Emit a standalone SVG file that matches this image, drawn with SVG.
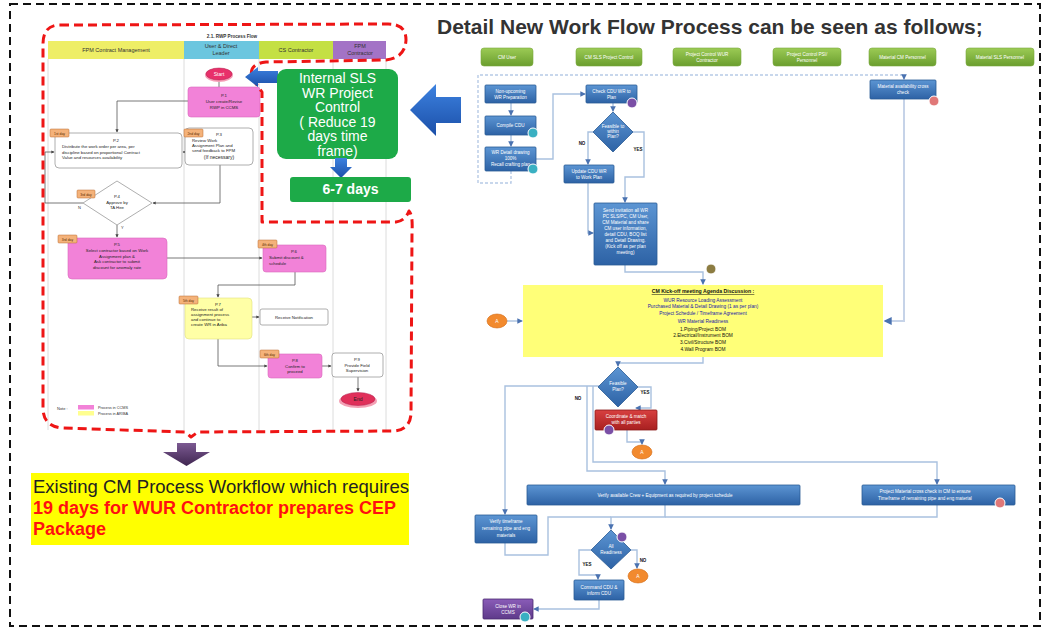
<svg xmlns="http://www.w3.org/2000/svg" width="1047" height="629" viewBox="0 0 1047 629">
<defs>
<marker id="ah" viewBox="0 0 6 6" refX="5" refY="3" markerWidth="4" markerHeight="4" orient="auto"><path d="M0,0 L6,3 L0,6 Z" fill="#444"/></marker>
<marker id="ab" viewBox="0 0 6 6" refX="5" refY="3" markerWidth="4" markerHeight="4" orient="auto"><path d="M0,0 L6,3 L0,6 Z" fill="#4a72b0"/></marker>
<linearGradient id="gBlue" x1="0" y1="0" x2="0" y2="1"><stop offset="0" stop-color="#5c95d3"/><stop offset="1" stop-color="#2d62a5"/></linearGradient>
<linearGradient id="gGreenBtn" x1="0" y1="0" x2="0" y2="1"><stop offset="0" stop-color="#9ccb55"/><stop offset="1" stop-color="#6a9e2e"/></linearGradient>
<linearGradient id="gArrow" x1="0" y1="0" x2="0" y2="1"><stop offset="0" stop-color="#3d82e0"/><stop offset="1" stop-color="#1b4fa8"/></linearGradient>
<linearGradient id="gPurple" x1="0" y1="0" x2="0" y2="1"><stop offset="0" stop-color="#7c5a92"/><stop offset="1" stop-color="#3f2650"/></linearGradient>
<linearGradient id="gRed" x1="0" y1="0" x2="0" y2="1"><stop offset="0" stop-color="#d84040"/><stop offset="1" stop-color="#a82020"/></linearGradient>
<linearGradient id="gViolet" x1="0" y1="0" x2="0" y2="1"><stop offset="0" stop-color="#8a5cb8"/><stop offset="1" stop-color="#5e3a8a"/></linearGradient>
</defs>
<style>
text{font-family:"Liberation Sans",Arial,sans-serif}
.lane{fill:none;stroke:#dcdcdc;stroke-width:1}
.hd{font-size:5.5px;fill:#333;text-anchor:middle}
.lc{fill:none;stroke:#555;stroke-width:0.8;marker-end:url(#ah)}
.ln{fill:none;stroke:#555;stroke-width:0.8}
.wb{fill:#fff;stroke:#999;stroke-width:0.8}
.pk{fill:#f282d8;stroke:#d868bc;stroke-width:0.6}
.yl{fill:#ffffa6;stroke:#e0e080;stroke-width:0.6}
.t4{font-size:4.3px;fill:#222}
.tc{text-anchor:middle}
.day{fill:#f4b27a;stroke:#b86a30;stroke-width:0.5}
.dt{font-size:3.4px;fill:#5a2a00;text-anchor:middle}
.bb{fill:url(#gBlue);stroke:#2a5a94;stroke-width:0.8}
.bt{font-size:4.6px;fill:#fff;text-anchor:middle}
.btn{fill:url(#gGreenBtn);stroke:#7aa83e;stroke-width:0.6}
.rc{fill:none;stroke:#a9c1df;stroke-width:1.4;marker-end:url(#ab)}
.rn{fill:none;stroke:#a9c1df;stroke-width:1.4}
.lb{font-size:4.5px;font-weight:bold;fill:#111;text-anchor:middle}
.oc{fill:#f28a2e;stroke:#d46a12;stroke-width:0.6}
.ot{font-size:5px;fill:#fff;text-anchor:middle}
.bg{stroke:#fff;stroke-width:1}
</style>
<rect width="1047" height="629" fill="#fff"/>
<rect x="10" y="4" width="1030" height="622" fill="none" stroke="#111" stroke-width="2" stroke-dasharray="8 5"/>

<g id="left-swimlane">
<text x="232" y="38" font-size="4.6" font-weight="bold" fill="#333" text-anchor="middle">2.1. RWP Process Flow</text>
<rect x="48" y="41" width="136" height="18" fill="#eeee66"/>
<rect x="184" y="41" width="75" height="18" fill="#6cc6df"/>
<rect x="259" y="41" width="74" height="18" fill="#c4e044"/>
<rect x="333" y="41" width="53" height="18" fill="#a373c6"/>
<text class="hd" x="116" y="52">FPM Contract Management</text>
<text class="hd" x="221" y="48">User &amp; Direct</text>
<text class="hd" x="221" y="55">Leader</text>
<text class="hd" x="296" y="52">CS Contractor</text>
<text class="hd" x="360" y="48">FPM</text>
<text class="hd" x="360" y="55">Contractor</text>
<path class="lane" d="M48,59 V430 M184,59 V430 M259,59 V430 M333,59 V430 M386,59 V430"/>
</g>

<g id="left-connectors">
<path class="ln" d="M219,80.5 V87"/>
<path class="lc" d="M188,101 H117 V132"/>
<path class="lc" d="M185,152 H183"/>
<path class="lc" d="M220,165 V203 H153"/>
<path class="lc" d="M83,203 H45 V152 H54"/>
<path class="lc" d="M117,225 V237"/>
<path class="lc" d="M167,258 H262"/>
<path class="lc" d="M295,272 V285 H218 V297"/>
<path class="lc" d="M252,317 H259"/>
<path class="lc" d="M218,339 V366 H267"/>
<path class="lc" d="M322,366 H331"/>
<path class="lc" d="M358,377 V391"/>
<text x="78" y="209" font-size="4" fill="#333">N</text>
<text x="121" y="229" font-size="4" fill="#333">Y</text>
</g>

<g id="n-start"><ellipse cx="219" cy="75" rx="14" ry="7" fill="#f6a0b8"/><ellipse cx="219" cy="74" rx="13" ry="6" fill="#e8306a" stroke="#b02050" stroke-width="0.5"/><text x="219" y="76" font-size="5" fill="#fff" text-anchor="middle">Start</text></g>
<g id="n-p1"><rect class="pk" x="188" y="87" width="72" height="30" rx="3"/><text class="t4 tc" x="224" y="97">P.1</text><text class="t4 tc" x="224" y="103">User create/Revise</text><text class="t4 tc" x="224" y="109">RWP in CCMS</text></g>
<g id="n-p2"><rect class="wb" x="55" y="133" width="127" height="35" rx="4"/><text class="t4 tc" x="116" y="142">P.2</text><text class="t4" x="62" y="148">Distribute the work order per area, per</text><text class="t4" x="62" y="153.5">discipline based on proportional Contract</text><text class="t4" x="62" y="159">Value and resources availability</text><rect class="day" x="50" y="129" width="19" height="8" rx="1"/><text class="dt" x="59.5" y="134.5">1st day</text></g>
<g id="n-p3"><rect class="wb" x="185" y="128" width="68" height="37" rx="4"/><text class="t4 tc" x="219" y="136">P.3</text><text class="t4" x="192" y="141.5">Review Work</text><text class="t4" x="192" y="146.5">Assignment Plan and</text><text class="t4" x="192" y="151.5">send feedback to FPM</text><text class="tc" x="219" y="159" font-size="5" fill="#222">(If necessary)</text><rect class="day" x="184" y="129" width="19" height="8" rx="1"/><text class="dt" x="193.5" y="134.5">2nd day</text></g>
<g id="n-p4"><polygon points="117,181 152,203 117,225 83,203" fill="#fff" stroke="#999" stroke-width="0.8"/><text class="t4 tc" x="117" y="198">P.4</text><text class="t4 tc" x="117" y="204">Approve by</text><text class="t4 tc" x="117" y="209">TA Hee</text><rect class="day" x="77" y="190" width="18" height="8" rx="1"/><text class="dt" x="86" y="195.5">3rd day</text></g>
<g id="n-p5"><rect class="pk" x="68" y="238" width="99" height="41" rx="4"/><text class="t4 tc" x="117" y="246">P.5</text><text class="t4 tc" x="117" y="252">Select contractor based on Work</text><text class="t4 tc" x="117" y="257.5">Assignment plan &amp;</text><text class="t4 tc" x="117" y="263">Ask contractor to submit</text><text class="t4 tc" x="117" y="268.5">discount for anomaly rate</text><rect class="day" x="58" y="235" width="19" height="8" rx="1"/><text class="dt" x="67.5" y="240.5">3rd day</text></g>
<g id="n-p6"><rect class="pk" x="263" y="245" width="63" height="27" rx="3"/><text class="t4 tc" x="294" y="253">P.6</text><text class="t4" x="269" y="259">Submit discount &amp;</text><text class="t4" x="269" y="264.5">schedule</text><rect class="day" x="258" y="240" width="19" height="8" rx="1"/><text class="dt" x="267.5" y="245.5">4th day</text></g>
<g id="n-p7"><rect class="yl" x="185" y="298" width="67" height="41" rx="4"/><text class="t4 tc" x="218" y="306">P.7</text><text class="t4" x="191" y="311">Receive result of</text><text class="t4" x="191" y="316">assignment process</text><text class="t4" x="191" y="321">and continue to</text><text class="t4" x="191" y="326">create WR in Ariba</text><rect class="day" x="179" y="296" width="19" height="8" rx="1"/><text class="dt" x="188.5" y="301.5">5th day</text></g>
<g id="n-notif"><rect class="wb" x="260" y="309" width="68" height="16" rx="2"/><text class="t4 tc" x="294" y="318.5">Receive Notification</text></g>
<g id="n-p8"><rect class="pk" x="268" y="354" width="54" height="24" rx="3"/><text class="t4 tc" x="295" y="362">P.8</text><text class="t4 tc" x="295" y="367.5">Confirm to</text><text class="t4 tc" x="295" y="373">proceed</text><rect class="day" x="260" y="350" width="19" height="8" rx="1"/><text class="dt" x="269.5" y="355.5">6th day</text></g>
<g id="n-p9"><rect class="wb" x="332" y="353" width="51" height="24" rx="3"/><text class="t4 tc" x="357" y="361">P.9</text><text class="t4 tc" x="357" y="366.5">Provide Field</text><text class="t4 tc" x="357" y="372">Supervision</text></g>
<g id="n-end"><ellipse cx="358" cy="401" rx="19" ry="7" fill="#f4a0b4"/><ellipse cx="358" cy="399" rx="17" ry="6.5" fill="#e0305a" stroke="#b02050" stroke-width="0.5"/><text x="358" y="401" font-size="5" fill="#222" text-anchor="middle">End</text></g>
<g id="legend"><text x="57" y="409.5" font-size="4" fill="#333">Note :</text><rect x="78" y="405" width="16" height="4.5" fill="#f282d8"/><text x="98" y="409" font-size="3.8" fill="#333">Process in CCMS</text><rect x="78" y="411" width="16" height="4.5" fill="#ffff90"/><text x="98" y="415" font-size="3.8" fill="#333">Process in ARIBA</text></g>

<g id="red-boundary"><path d="M60,25 L388,24 Q406,24 406,40 Q405,58 386,60 L266,62 Q248,64 252,78 L262,92 L262,222 L396,222 Q405,221 409,211 Q413,215 412,232 L411,414 Q410,429 395,431 L198,432 L191,437 L185,432 L62,428 Q43,426 43,408 L43,44 Q43,25 60,25 Z" fill="none" stroke="#ee1515" stroke-width="3" stroke-dasharray="9 5" stroke-linejoin="round"/></g>

<g id="arrow-small-left"><polygon points="245,77 258,67 258,71 278,71 278,83 258,83 258,87" fill="url(#gArrow)"/></g>
<g id="n-internal"><rect x="277" y="69" width="121" height="90" rx="9" fill="#1daa48"/><g font-size="14" fill="#fff" text-anchor="middle"><text x="337.5" y="83">Internal SLS</text><text x="337.5" y="97.5">WR Project</text><text x="337.5" y="112">Control</text><text x="337.5" y="126.5">( Reduce 19</text><text x="337.5" y="141">days time</text><text x="337.5" y="155.5">frame)</text></g></g>
<g id="arrow-down-blue"><polygon points="335,158 347,158 347,167 352,167 341,178 330,167 335,167" fill="url(#gArrow)"/></g>
<g id="n-days"><rect x="290" y="177" width="121" height="25" rx="3" fill="#1daa48"/><text x="350.5" y="194" font-size="14" font-weight="bold" fill="#fff" text-anchor="middle">6-7 days</text></g>
<g id="arrow-big-left"><polygon points="410,110 436,84 436,97 461,97 461,123 436,123 436,136" fill="url(#gArrow)"/></g>
<g id="arrow-purple-down"><polygon points="177,443 196,443 196,452 210,452 186.5,466 163,452 177,452" fill="url(#gPurple)"/></g>
<g id="n-existing"><rect x="31" y="473" width="378" height="72" fill="#ffff00"/><text x="33" y="493" font-size="18.5" fill="#222">Existing CM Process Workflow which requires</text><text x="33" y="514" font-size="18" font-weight="bold" fill="#ff1010">19 days for WUR Contractor prepares CEP</text><text x="33" y="535" font-size="18" font-weight="bold" fill="#ff1010">Package</text></g>

<g id="title"><text x="437" y="34" font-size="21" font-weight="bold" fill="#333">Detail New Work Flow Process can be seen as follows;</text></g>
<g id="lane-headers">
<rect class="btn" x="481" y="48" width="52" height="18" rx="3"/><text class="bt" x="507" y="58.5">CM User</text>
<rect class="btn" x="576" y="48" width="66" height="18" rx="3"/><text class="bt" x="609" y="58.5">CM SLS Project Control</text>
<rect class="btn" x="673" y="48" width="68" height="18" rx="3"/><text class="bt" x="707" y="55.5">Project Control WUR</text><text class="bt" x="707" y="61.5">Contractor</text>
<rect class="btn" x="773" y="48" width="68" height="18" rx="3"/><text class="bt" x="807" y="55.5">Project Control PSI/</text><text class="bt" x="807" y="61.5">Personnel</text>
<rect class="btn" x="869" y="48" width="67" height="18" rx="3"/><text class="bt" x="902.5" y="58.5">Material CM Personnel</text>
<rect class="btn" x="966" y="48" width="68" height="18" rx="3"/><text class="bt" x="1000" y="58.5">Material SLS Personnel</text>
</g>

<g id="right-connectors">
<path d="M511,171 V183 H478 V75 H904 V79" fill="none" stroke="#b7cae6" stroke-width="1.4" stroke-dasharray="3 2" marker-end="url(#ab)"/>
<path class="rc" d="M511,103 V115"/>
<path class="rc" d="M511,135 V146"/>
<path class="rc" d="M536,159 H553 V94 H585"/>
<path class="rc" d="M613,103 V111"/>
<path class="rc" d="M593,132 H588 V164"/>
<path class="rc" d="M588,183 V233 H593"/>
<path class="rc" d="M632,132 H644 V177 H625 V202"/>
<path class="rc" d="M625,265 V272 H703 V284"/>
<path d="M904,99 V321 H885" fill="none" stroke="#c6d3e8" stroke-width="2" marker-end="url(#ab)"/>
<path class="rc" d="M507,321 H522"/>
<path class="rc" d="M703,357 V363 H618 V366"/>
<path class="rc" d="M638,387 H651 V408 H636"/>
<path class="rc" d="M599,386 H505 V514"/>
<path class="rc" d="M587,386 V471 H665 V484"/>
<path class="rc" d="M593,386 V462 H937 V484"/>
<path class="rc" d="M627,430 V442 H642 V444"/>
<path class="rc" d="M665,504 V517 H611 V529"/>
<path class="rn" d="M937,505 V517 H665"/>
<path class="rn" d="M505,543 V555 H548 V517 H611"/>
<path class="rc" d="M631,550 H637 V568"/>
<path class="rc" d="M591,550 H579 V575 H598 V579"/>
<path class="rc" d="M599,600 V609 H534"/>
<text class="lb" x="582" y="145">NO</text>
<text class="lb" x="638" y="151">YES</text>
<text class="lb" x="645" y="394">YES</text>
<text class="lb" x="578" y="400">NO</text>
<text class="lb" x="643" y="562">NO</text>
<text class="lb" x="587" y="566">YES</text>
</g>

<g id="r-a"><rect class="bb" x="485" y="85" width="51" height="18" rx="1"/><text class="bt" x="510.5" y="93">Non-upcoming</text><text class="bt" x="510.5" y="99">WR Preparation</text></g>
<g id="r-b"><rect class="bb" x="485" y="116" width="51" height="19" rx="1"/><text class="bt" x="510.5" y="127">Compile CDU</text><circle class="bg" cx="533" cy="133" r="5" fill="#3ab0c2"/></g>
<g id="r-c"><rect class="bb" x="485" y="147" width="51" height="24" rx="1"/><text class="bt" x="510.5" y="154">WR Detail drawing</text><text class="bt" x="510.5" y="160">100%</text><text class="bt" x="510.5" y="166">Recall crafting plan</text><circle class="bg" cx="533" cy="169" r="5" fill="#3ab0c2"/></g>
<g id="r-d"><rect class="bb" x="586" y="85" width="51" height="18" rx="1"/><text class="bt" x="611.5" y="93">Check CDU WR to</text><text class="bt" x="611.5" y="99">Plan</text><circle class="bg" cx="632" cy="103" r="5" fill="#7a4fa6"/></g>
<g id="r-dia1"><polygon class="bb" points="613,112 633,132 613,152 593,132"/><text class="bt" x="613" y="128">Feasible to</text><text class="bt" x="613" y="133">within</text><text class="bt" x="613" y="138">Plan?</text></g>
<g id="r-e"><rect class="bb" x="564" y="165" width="50" height="18" rx="1"/><text class="bt" x="589" y="173">Update CDU WR</text><text class="bt" x="589" y="179">to Work Plan</text></g>
<g id="r-f"><rect class="bb" x="594" y="203" width="63" height="62" rx="1"/><text class="bt" x="625.5" y="212">Send invitation all WR</text><text class="bt" x="625.5" y="218">PC SLS/PC, CM User,</text><text class="bt" x="625.5" y="224">CM Material and share</text><text class="bt" x="625.5" y="230">CM user information,</text><text class="bt" x="625.5" y="236">detail CDU, BOQ list</text><text class="bt" x="625.5" y="242">and Detail Drawing.</text><text class="bt" x="625.5" y="248" fill="#e6f040">(Kick off as per plan</text><text class="bt" x="625.5" y="254" fill="#e6f040">meeting)</text></g>
<g id="r-badge-olive"><circle class="bg" cx="711" cy="269" r="5" fill="#8c7c42"/></g>
<g id="r-g"><rect class="bb" x="870" y="80" width="66" height="19" rx="1"/><text class="bt" x="903" y="88">Material availability cross</text><text class="bt" x="903" y="94">check</text><circle class="bg" cx="934" cy="101" r="5" fill="#e07878"/></g>
<g id="r-yellow"><rect x="523" y="285" width="360" height="72" fill="#ffff78"/>
<text x="703" y="293" font-size="5.2" font-weight="bold" fill="#111" text-anchor="middle" text-decoration="underline">CM Kick-off meeting Agenda Discussion :</text>
<g font-size="4.8" fill="#1a1aa8" text-anchor="middle"><text x="703" y="301.5">WUR Resource Loading Assessment</text><text x="703" y="308">Purchased Material &amp; Detail Drawing (1 as per plan)</text><text x="703" y="314.5">Project Schedule / Timeframe Agreement</text><text x="703" y="323">WR Material Readiness</text></g>
<g font-size="4.8" fill="#111" text-anchor="middle"><text x="703" y="330.5">1.Piping/Project BOM</text><text x="703" y="337">2.Electrical/Instrument BOM</text><text x="703" y="344">3.Civil/Structure BOM</text><text x="703" y="351">4.Wall Program BOM</text></g></g>
<g id="r-a1"><ellipse class="oc" cx="497" cy="321" rx="10" ry="7"/><text class="ot" x="497" y="323">A</text></g>
<g id="r-dia2"><polygon class="bb" points="618,367 638,387 618,407 598,387"/><text class="bt" x="618" y="385">Feasible</text><text class="bt" x="618" y="391">Plan?</text></g>
<g id="r-red"><rect x="595" y="410" width="62" height="20" rx="1" fill="url(#gRed)" stroke="#8a1a1a" stroke-width="0.8"/><text class="bt" x="626" y="418">Coordinate &amp; match</text><text class="bt" x="626" y="424">with all parties</text><circle class="bg" cx="609" cy="430" r="5" fill="#7a4fa6"/></g>
<g id="r-a2"><ellipse class="oc" cx="642" cy="452" rx="10" ry="7"/><text class="ot" x="642" y="454">A</text></g>
<g id="r-h"><rect class="bb" x="527" y="485" width="273" height="20" rx="1"/><text class="bt" x="665" y="497">Verify available Crew + Equipment as required by project schedule</text></g>
<g id="r-i"><rect class="bb" x="862" y="485" width="153" height="20" rx="1"/><text class="bt" x="925" y="493">Project Material cross check in CM to ensure</text><text class="bt" x="925" y="499.5">Timeframe of remaining pipe and eng material</text><circle class="bg" cx="1000" cy="503" r="5" fill="#e07878"/></g>
<g id="r-j"><rect class="bb" x="475" y="515" width="62" height="28" rx="1"/><text class="bt" x="506" y="523">Verify timeframe</text><text class="bt" x="506" y="530">remaining pipe and eng</text><text class="bt" x="506" y="537">materials</text></g>
<g id="r-dia3"><polygon class="bb" points="611,530 631,550 611,569 591,550"/><text class="bt" x="611" y="548">All</text><text class="bt" x="611" y="554">Readiness</text><circle class="bg" cx="622" cy="537" r="5" fill="#7a4fa6"/></g>
<g id="r-a3"><ellipse class="oc" cx="638" cy="576" rx="10" ry="7"/><text class="ot" x="638" y="578">A</text></g>
<g id="r-k"><rect class="bb" x="574" y="580" width="50" height="20" rx="1"/><text class="bt" x="599" y="588.5">Command CDU &amp;</text><text class="bt" x="599" y="595">inform CDU</text></g>
<g id="r-l"><rect x="483" y="599" width="50" height="20" rx="1" fill="url(#gViolet)" stroke="#4a2a70" stroke-width="0.8"/><text class="bt" x="508" y="607.5">Close WR in</text><text class="bt" x="508" y="614">CCMS</text><circle class="bg" cx="525" cy="617" r="5" fill="#3ab0c2"/></g>
</svg>
